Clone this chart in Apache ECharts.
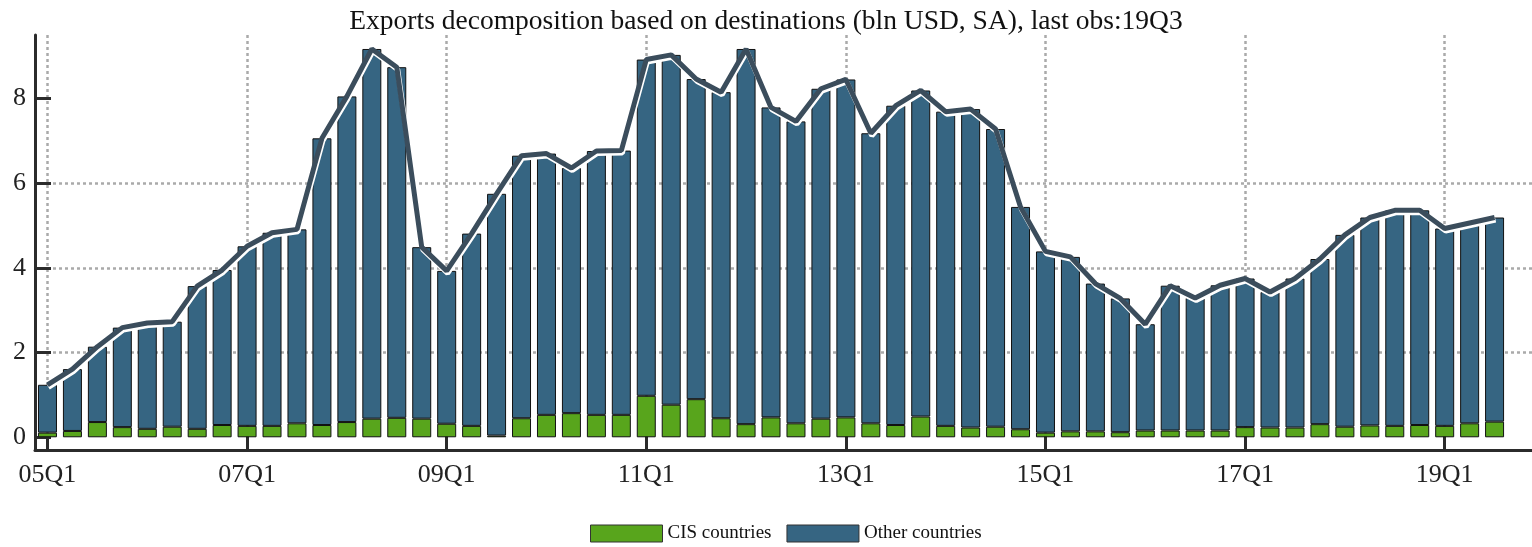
<!DOCTYPE html>
<html>
<head>
<meta charset="utf-8">
<script src="https://cdn.jsdelivr.net/npm/echarts@6/dist/echarts.min.js"></script>
<style>
html,body{margin:0;padding:0;background:#fff;}
#chart{width:1532px;height:547px;}
</style>
</head>
<body>
<div id="chart"></div>
<script>
var titleText = 'Exports decomposition based on destinations (bln USD, SA), last obs:19Q3';
var quarters = [
 '05Q1','05Q2','05Q3','05Q4','06Q1','06Q2','06Q3','06Q4',
 '07Q1','07Q2','07Q3','07Q4','08Q1','08Q2','08Q3','08Q4',
 '09Q1','09Q2','09Q3','09Q4','10Q1','10Q2','10Q3','10Q4',
 '11Q1','11Q2','11Q3','11Q4','12Q1','12Q2','12Q3','12Q4',
 '13Q1','13Q2','13Q3','13Q4','14Q1','14Q2','14Q3','14Q4',
 '15Q1','15Q2','15Q3','15Q4','16Q1','16Q2','16Q3','16Q4',
 '17Q1','17Q2','17Q3','17Q4','18Q1','18Q2','18Q3','18Q4',
 '19Q1','19Q2','19Q3'
];
var cis = [
 0.11,0.15,0.36,0.24,0.20,0.25,0.20,0.29,
 0.27,0.27,0.33,0.29,0.36,0.44,0.46,0.44,
 0.32,0.27,0.04,0.45,0.53,0.57,0.53,0.53,
 0.98,0.77,0.90,0.45,0.31,0.47,0.33,0.44,
 0.47,0.33,0.29,0.49,0.27,0.23,0.25,0.19,
 0.11,0.14,0.14,0.12,0.16,0.16,0.16,0.16,
 0.24,0.23,0.23,0.31,0.25,0.28,0.27,0.29,
 0.27,0.33,0.37
];
var other = [
 1.13,1.46,1.78,2.35,2.50,2.48,3.37,3.66,
 4.24,4.56,4.58,6.77,7.69,8.73,8.28,4.05,
 3.61,4.54,5.71,6.20,6.17,5.79,6.23,6.24,
 7.94,8.26,7.56,7.70,8.86,7.32,7.13,7.79,
 7.98,6.85,7.54,7.70,7.42,7.52,7.03,5.25,
 4.28,4.12,3.49,3.16,2.51,3.42,3.13,3.43,
 3.51,3.20,3.52,3.90,4.53,4.91,5.09,5.07,
 4.66,4.73,4.82
];
var yTicks = [0,2,4,6,8];
var total = cis.map(function(v,i){ return Math.round((v + other[i])*100)/100; });

var serif = 'Liberation Serif';
var chart = echarts.init(document.getElementById('chart'), null, {renderer:'canvas'});
chart.setOption({
  animation:false,
  backgroundColor:'#fff',
  title:{
    text:titleText, left:'center', top:3,
    textStyle:{fontFamily:serif, fontSize:27.5, fontWeight:'normal', color:'#111'}
  },
  legend:{
    left:590, top:524, padding:0, itemGap:15, itemWidth:72, itemHeight:17,
    textStyle:{fontFamily:serif, fontSize:19, color:'#111'},
    data:[
      {name:'CIS countries', icon:'rect', itemStyle:{color:'#58a51c', borderColor:'#333', borderWidth:1}},
      {name:'Other countries', icon:'rect', itemStyle:{color:'#366582', borderColor:'#333', borderWidth:1}}
    ]
  },
  grid:{left:35, right:-9, top:35, bottom:97, containLabel:false},
  xAxis:{
    type:'category', data:quarters, max:59, boundaryGap:true,
    axisLine:{onZero:false, lineStyle:{color:'#2b2b2b', width:3}},
    axisTick:{show:true, interval:7, alignWithLabel:true, inside:true, length:16, lineStyle:{color:'#2b2b2b', width:3}},
    axisLabel:{interval:7, margin:12, fontFamily:serif, fontSize:26, color:'#222'},
    splitLine:{show:true, interval:7, alignWithLabel:true, lineStyle:{color:'#aaa', width:2.5, type:[3,3]}}
  },
  yAxis:{
    type:'value', min:-0.3, max:9.5,
    axisLine:{show:true, lineStyle:{color:'#2b2b2b', width:3}},
    axisTick:{show:true, inside:true, length:16, customValues:yTicks, lineStyle:{color:'#2b2b2b', width:3}},
    axisLabel:{customValues:yTicks, margin:9, fontFamily:serif, fontSize:26, color:'#222'},
    splitLine:{show:true, showMinLine:false, showMaxLine:false, lineStyle:{color:'#aaa', width:2.5, type:[3,3]}}
  },
  series:[
    {name:'CIS countries', type:'bar', stack:'exp', data:cis, barWidth:19,
     itemStyle:{color:'#58a51c', borderColor:'#111', borderWidth:1}},
    {name:'Other countries', type:'bar', stack:'exp', data:other, barWidth:19,
     itemStyle:{color:'#366582', borderColor:'#111', borderWidth:1}},
    {name:'Total', type:'line', data:total, symbol:'none', z:5,
     lineStyle:{color:'#3b4d5c', width:5, shadowColor:'#ffffff', shadowBlur:0, shadowOffsetX:1, shadowOffsetY:2.5}}
  ]
});
</script>
</body>
</html>
